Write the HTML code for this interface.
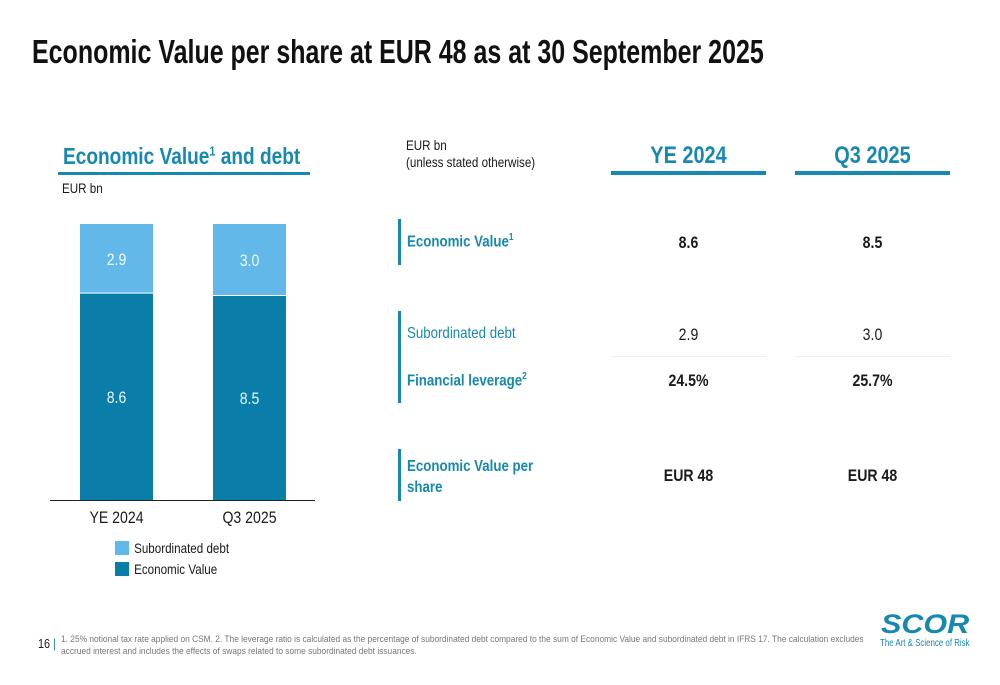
<!DOCTYPE html>
<html><head><meta charset="utf-8"><style>
body{margin:0;width:1000px;height:685px;background:#fff;position:relative;overflow:hidden;font-family:"Liberation Sans",sans-serif;color:#1a1a1a}
.a{position:absolute;white-space:nowrap}
.n{transform:scaleX(0.83);transform-origin:0 0}
.c{transform:scaleX(0.83);transform-origin:50% 0}
.teal{color:#1589b0}
.hdr{font-weight:bold;font-size:24px;text-align:center}
.val{font-size:17px;text-align:center;width:155px}
.bar{position:absolute;left:398px;width:3px;background:#1589b0}
</style></head><body>
<div class="a" style="left:32px;top:33px;font-size:33px;font-weight:bold;color:#111;transform:scaleX(0.757);transform-origin:0 0">Economic Value per share at EUR 48 as at 30 September 2025</div>

<div class="a teal n" style="left:63px;top:143px;font-size:23px;font-weight:bold">Economic Value<sup style="font-size:13px">1</sup> and debt</div>
<div class="a" style="left:58px;top:172px;width:252px;height:3px;background:#1589b0"></div>
<div class="a n" style="left:62px;top:180px;font-size:14px">EUR bn</div>

<svg class="a" style="left:0;top:0" width="340" height="540" id="chart"></svg>

<div class="a n" style="left:115px;top:540px;font-size:14px"><span style="display:inline-block;width:17px;height:14px;background:#62b8e8;vertical-align:-2px;margin-right:6px"></span>Subordinated debt</div>
<div class="a n" style="left:115px;top:561px;font-size:14px"><span style="display:inline-block;width:17px;height:14px;background:#0a7ea8;vertical-align:-2px;margin-right:6px"></span>Economic Value</div>

<div class="a n" style="left:406px;top:137px;font-size:14px;line-height:17px">EUR bn<br>(unless stated otherwise)</div>
<div class="a teal hdr c" style="left:611px;top:142px;width:155px">YE 2024</div>
<div class="a" style="left:611px;top:171px;width:155px;height:4px;background:#1589b0"></div>
<div class="a teal hdr c" style="left:795px;top:142px;width:155px">Q3 2025</div>
<div class="a" style="left:795px;top:171px;width:155px;height:4px;background:#1589b0"></div>

<div class="bar" style="top:219px;height:46px"></div>
<div class="a teal n" style="left:407px;top:232px;font-size:16px;font-weight:bold">Economic Value<sup style="font-size:10px">1</sup></div>
<div class="a val c" style="left:611px;top:233px;font-weight:bold">8.6</div>
<div class="a val c" style="left:795px;top:233px;font-weight:bold">8.5</div>

<div class="bar" style="top:311px;height:92px"></div>
<div class="a teal n" style="left:407px;top:325px;font-size:16px">Subordinated debt</div>
<div class="a val c" style="left:611px;top:325px">2.9</div>
<div class="a val c" style="left:795px;top:325px">3.0</div>
<div class="a" style="left:611px;top:356px;width:155px;height:1px;background:#eee"></div>
<div class="a" style="left:795px;top:356px;width:155px;height:1px;background:#eee"></div>
<div class="a teal n" style="left:407px;top:371px;font-size:16px;font-weight:bold">Financial leverage<sup style="font-size:10px">2</sup></div>
<div class="a val c" style="left:611px;top:371px;font-weight:bold">24.5%</div>
<div class="a val c" style="left:795px;top:371px;font-weight:bold">25.7%</div>

<div class="bar" style="top:449px;height:52px"></div>
<div class="a teal n" style="left:407px;top:456px;font-size:16px;font-weight:bold;line-height:21px">Economic Value per<br>share</div>
<div class="a val c" style="left:611px;top:466px;font-weight:bold">EUR 48</div>
<div class="a val c" style="left:795px;top:466px;font-weight:bold">EUR 48</div>

<div class="a n" style="left:38px;top:636px;font-size:13px">16 <span style="color:#1589b0">|</span></div>
<div class="a" style="left:61px;top:634px;font-size:9.5px;color:#777;line-height:12px;transform:scaleX(0.88);transform-origin:0 0">1. 25% notional tax rate applied on CSM. 2. The leverage ratio is calculated as the percentage of subordinated debt compared to the sum of Economic Value and subordinated debt in IFRS 17. The calculation excludes<br>accrued interest and includes the effects of swaps related to some subordinated debt issuances.</div>
<div class="a" style="left:881px;top:611px;font-size:27px;line-height:27px;font-weight:bold;font-style:italic;color:#1589b0;transform:scaleX(1.13);transform-origin:0 0">SCOR</div>
<div class="a" style="left:880px;top:638px;font-size:10px;color:#1589b0;transform:scaleX(0.79);transform-origin:0 0">The Art &amp; Science of Risk</div>

<script>
const categories=["YE 2024","Q3 2025"];
const economicValue=[8.6,8.5];
const subDebt=[2.9,3.0];
const svg=document.getElementById('chart');
const NS="http://www.w3.org/2000/svg";
const base=500, scale=24;
const y=v=>base-v*scale;
const xs=i=>80+i*133;
function mk(t,a){const e=document.createElementNS(NS,t);for(const k in a)e.setAttribute(k,a[k]);svg.appendChild(e);return e;}
function txt(cx,cy,s,fill){const t=mk('text',{x:0,y:0,'text-anchor':'middle','font-size':17,fill:fill,'font-family':'Liberation Sans, sans-serif',transform:'translate('+cx+','+cy+') scale(0.83,1)'});t.textContent=s;return t;}
categories.forEach((c,i)=>{
  const r1=mk('rect',{x:xs(i),y:y(economicValue[i]),width:73,height:economicValue[i]*scale,fill:'#0a7ea8'});
  
  
  const top=economicValue[i]+subDebt[i];
  const r2=mk('rect',{x:xs(i),y:y(top),width:73,height:subDebt[i]*scale-1,fill:'#62b8e8'});
  
  
  const t1=txt(xs(i)+36.5,y(economicValue[i]/2)+6,economicValue[i].toFixed(1),'#e8f4fa');
  
  
  const t2=txt(xs(i)+36.5,y(economicValue[i]+subDebt[i]/2)+6,subDebt[i].toFixed(1),'#f0f8fc');
  
  
  const t3=txt(xs(i)+36.5,523,c,'#1a1a1a');
  
  
});
const ax=mk('line',{x1:50,x2:315,y1:base+0.5,y2:base+0.5,stroke:'#222','stroke-width':1});


</script>
</body></html>
